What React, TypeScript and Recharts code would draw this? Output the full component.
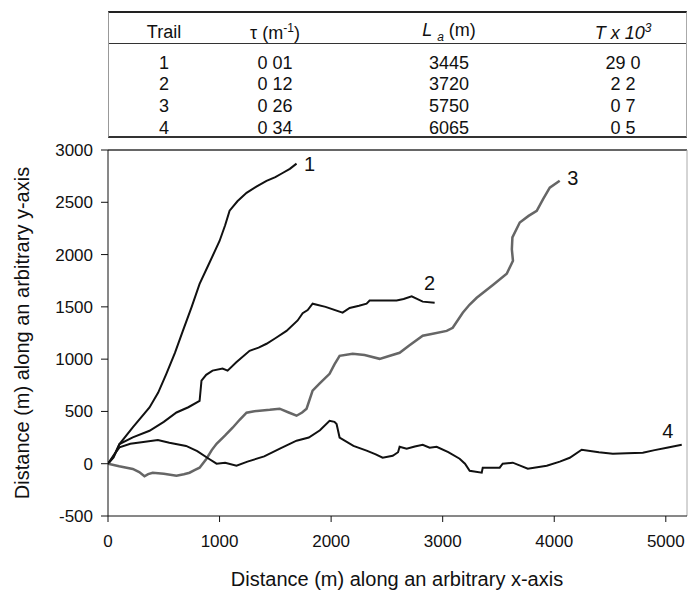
import { LineChart, Line, XAxis, YAxis, ReferenceLine, ReferenceDot } from 'recharts'

const FONT = '"Liberation Sans", Arial, sans-serif'

// table
const trailIds = ['1', '2', '3', '4']
const tauValues = ['0 01', '0 12', '0 26', '0 34']
const laValues = ['3445', '3720', '5750', '6065']
const tValues = ['29 0', '2 2', '0 7', '0 5']

// trails, [x, y] in metres
const trail1 = [
  [0, 0], [50, 60], [103, 188], [222, 347], [372, 538], [450, 680], [522, 857], [600, 1060], [671, 1271],
  [750, 1500], [821, 1720], [900, 1900], [1000, 2130], [1050, 2280], [1090, 2420], [1160, 2510],
  [1242, 2590], [1330, 2650], [1421, 2705], [1500, 2740], [1565, 2780], [1630, 2820], [1690, 2870],
]
const trail2 = [
  [0, 0], [50, 70], [103, 188], [222, 252], [372, 315], [500, 400], [614, 490], [720, 540], [821, 600],
  [838, 795], [880, 850], [937, 890], [1027, 910], [1072, 890], [1150, 970], [1269, 1080], [1350, 1110],
  [1421, 1147], [1500, 1200], [1600, 1270], [1700, 1370], [1745, 1440], [1790, 1470], [1834, 1530],
  [1950, 1500], [2103, 1445], [2166, 1490], [2250, 1510], [2318, 1530], [2345, 1560], [2450, 1560],
  [2587, 1560], [2650, 1575], [2722, 1600], [2821, 1550], [2928, 1540],
]
const trail3 = [
  [0, 0], [100, -25], [222, -50], [280, -80], [327, -120], [360, -100], [401, -86], [500, -95],
  [614, -115], [680, -100], [731, -86], [780, -60], [821, -38], [883, 48], [930, 130], [973, 191],
  [1050, 270], [1117, 344], [1180, 420], [1242, 488], [1300, 500], [1359, 507], [1450, 515],
  [1538, 526], [1620, 490], [1690, 459], [1740, 490], [1780, 526], [1834, 698], [1900, 770],
  [1986, 860], [2030, 950], [2076, 1032], [2193, 1051], [2300, 1040], [2435, 1003], [2520, 1030],
  [2614, 1061], [2700, 1130], [2821, 1224], [2900, 1240], [3036, 1270], [3090, 1300], [3180, 1444],
  [3240, 1520], [3305, 1587], [3450, 1710], [3574, 1816], [3630, 1940], [3620, 2050], [3625, 2164],
  [3691, 2307], [3770, 2370], [3843, 2419], [3900, 2530], [3960, 2640], [4049, 2706],
]
const trail4 = [
  [0, 0], [50, 80], [103, 156], [200, 190], [300, 205], [447, 226], [550, 200], [700, 170], [800, 120],
  [900, 50], [973, 0], [1050, 10], [1152, -20], [1250, 20], [1400, 70], [1550, 150], [1690, 220],
  [1800, 250], [1900, 320], [1986, 411], [2030, 400], [2049, 380], [2076, 250], [2200, 170],
  [2318, 125], [2400, 90], [2462, 57], [2552, 76], [2600, 110], [2614, 162], [2677, 143], [2750, 165],
  [2821, 181], [2883, 153], [2946, 162], [3050, 110], [3152, 48], [3200, 0], [3242, -67], [3350, -86],
  [3359, -38], [3511, -38], [3538, 0], [3628, 10], [3700, -20], [3763, -48], [3933, -19], [4050, 20],
  [4139, 57], [4246, 134], [4400, 110], [4525, 96], [4650, 100], [4794, 105], [4900, 130],
  [5009, 153], [5143, 181],
]

const trailLabels = [
  { text: '1', x: 1807, y: 2868 },
  { text: '2', x: 2883, y: 1730 },
  { text: '3', x: 4166, y: 2734 },
  { text: '4', x: 5018, y: 315 },
]

const xTicks = [0, 1000, 2000, 3000, 4000, 5000]
const yTicks = [-500, 0, 500, 1000, 1500, 2000, 2500, 3000]

const toPts = (arr: number[][]) => arr.map(([x, y]) => ({ x, y }))

const series = [
  { key: 't1', data: toPts(trail1), color: '#111', width: 2 },
  { key: 't2', data: toPts(trail2), color: '#111', width: 2 },
  { key: 't3', data: toPts(trail3), color: '#666', width: 2.5 },
  { key: 't4', data: toPts(trail4), color: '#111', width: 2 },
]

const colCenters = [55, 166, 340, 514]

function Cell({ left, top, children, italic }: { left: number, top: number, children: any, italic?: boolean }) {
  return (
    <div style={{
      position: 'absolute', left, top, transform: 'translate(-50%, -50%)', whiteSpace: 'nowrap',
      fontStyle: italic ? 'italic' : 'normal',
    }}>
      {children}
    </div>
  )
}

function DataTable() {
  const rowTop = [61, 82, 104, 126]
  return (
    <div style={{
      position: 'absolute', left: 108, top: 11, width: 579, height: 127, fontFamily: FONT, fontSize: 18,
      color: '#111', borderTop: '2px solid #222', borderBottom: '2px solid #333',
      borderLeft: '1px solid #999', borderRight: '1px solid #aaa', boxSizing: 'border-box',
    }}>
      <div style={{ position: 'absolute', left: 0, right: 0, top: 30, borderTop: '1px solid #333' }} />
      <Cell left={colCenters[0]} top={19}>Trail</Cell>
      <Cell left={colCenters[1]} top={19}>τ (m<sup style={{ fontSize: 12 }}>-1</sup>)</Cell>
      <Cell left={colCenters[2]} top={19}>
        <i>L</i> <sub style={{ fontSize: 12, fontStyle: 'italic' }}>a</sub> (m)
      </Cell>
      <Cell left={colCenters[3]} top={19} italic>T x 10<sup style={{ fontSize: 12 }}>3</sup></Cell>
      {trailIds.map((id, i) => (
        <div key={id}>
          <Cell left={colCenters[0]} top={rowTop[i] - 11}>{id}</Cell>
          <Cell left={colCenters[1]} top={rowTop[i] - 11}>{tauValues[i]}</Cell>
          <Cell left={colCenters[2]} top={rowTop[i] - 11}>{laValues[i]}</Cell>
          <Cell left={colCenters[3]} top={rowTop[i] - 11}>{tValues[i]}</Cell>
        </div>
      ))}
    </div>
  )
}

export default function App() {
  return (
    <div style={{ position: 'absolute', left: 0, top: 0, width: 689, height: 593, background: '#fff' }}>
      <DataTable />
      <div style={{ position: 'absolute', left: 0, top: 0 }}>
        <LineChart width={689} height={593} margin={{ top: 150, right: 2, bottom: 7, left: 0 }}>
          <XAxis
            type="number" dataKey="x" domain={[0, 5190]} ticks={xTicks} allowDataOverflow
            height={70} tickSize={6} tickMargin={13} stroke="#111"
            tick={{ fontSize: 17, fill: '#111', fontFamily: FONT }}
            label={{
              content: () => (
                <text x={397} y={586} textAnchor="middle" fontSize={20} fontFamily={FONT} fill="#111">
                  Distance (m) along an arbitrary x-axis
                </text>
              ),
            }}
          />
          <YAxis
            type="number" dataKey="y" domain={[-500, 3000]} ticks={yTicks} allowDataOverflow
            width={108} tickSize={7} tickMargin={8} stroke="#111"
            tick={{ fontSize: 17, fill: '#111', fontFamily: FONT }}
            label={{
              content: () => (
                <text x={29} y={333} transform="rotate(-90 29 333)" textAnchor="middle" fontSize={20}
                  fontFamily={FONT} fill="#111">
                  Distance (m) along an arbitrary y-axis
                </text>
              ),
            }}
          />
          <ReferenceLine y={3000} stroke="#333" strokeWidth={1.5} />
          <ReferenceLine x={5190} stroke="#aaa" />
          {series.map(s => (
            <Line
              key={s.key} data={s.data} dataKey="y" type="linear" stroke={s.color} strokeWidth={s.width}
              dot={false} activeDot={false} isAnimationActive={false}
            />
          ))}
          {trailLabels.map(l => (
            <ReferenceDot
              key={l.text} x={l.x} y={l.y} r={0} stroke="none"
              label={{ value: l.text, position: 'center', fontSize: 20, fill: '#111', fontFamily: FONT }}
            />
          ))}
        </LineChart>
      </div>
    </div>
  )
}
